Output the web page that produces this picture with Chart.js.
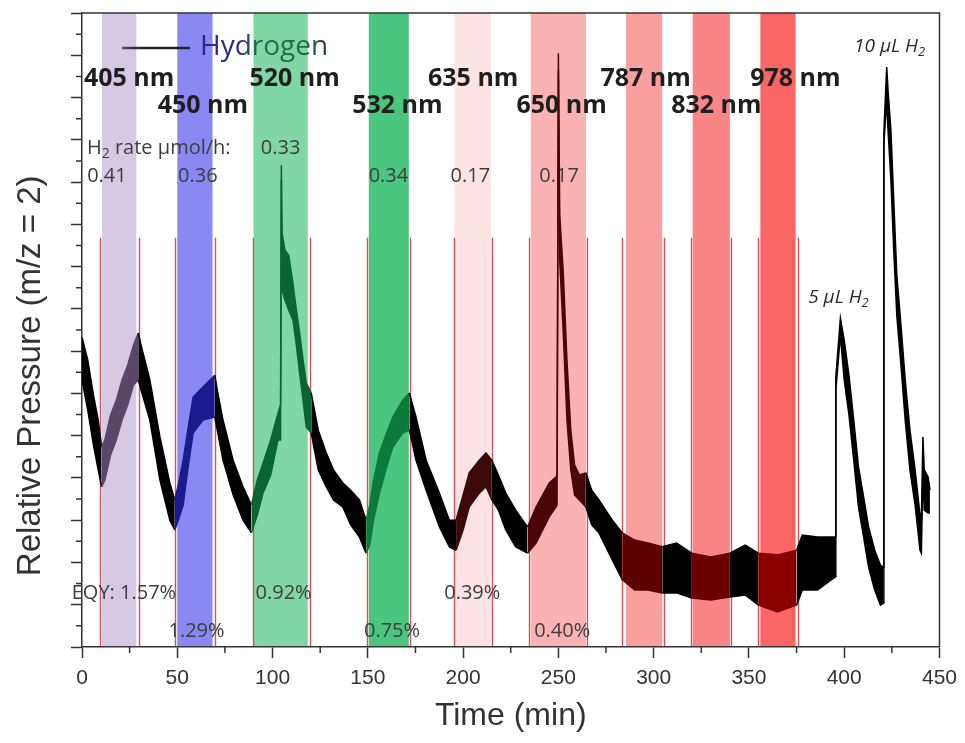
<!DOCTYPE html>
<html>
<head>
<meta charset="utf-8">
<title>H2 evolution vs wavelength</title>
<script src="https://cdn.jsdelivr.net/npm/chart.js@4.4.1/dist/chart.umd.min.js"></script>
<style>
  html, body { margin: 0; padding: 0; background: #fff; }
</style>
</head>
<body>
<canvas id="h2Chart" width="965" height="743"></canvas>
<script>
// Datos: tiempo (min) y envolvente del ruido de la señal m/z = 2
const timeMin = [0, 3, 6, 8.5, 10.3, 12, 15, 18, 21, 24,
  27, 29.5, 31, 35.6, 40.9, 46.1, 48.7, 50.5, 53.1, 55.5,
  58.3, 63.5, 69.7, 71, 74, 79.3, 84.5, 88.9, 92, 95,
  99, 102.9, 104.2, 104.6, 105, 106.5, 108.5, 110.7, 112.5, 114.2,
  116, 117.7, 120.3, 124, 128.2, 132, 136.9, 141, 145.6, 149.1,
  151, 153, 156.1, 159.5, 163.1, 168.3, 171.8, 175.3, 180.6, 187.6,
  192.8, 196.3, 200, 203.2, 208.5, 212, 215.1, 218.5, 222.4, 227.6,
  233.8, 238.3, 245.2, 248.7, 249.3, 250, 250.7, 252.5, 254.5, 256.5,
  258.5, 261, 264.4, 267.5, 271.3, 278.3, 283.6, 290, 297, 304.5,
  312, 320, 330, 340, 348, 355, 365, 375, 378, 386,
  395.3, 395.6, 398, 400, 402.5, 405, 407.5, 410, 412.8, 416,
  419, 420.5, 420.8, 422.3, 423, 424.5, 426, 427.6, 430, 432,
  434.5, 437.2, 439.8, 440.5, 441.3, 442, 444, 445];

const pressureTop = [7.33, 6.79, 5.96, 5.37, 4.73, 4.90, 5.49, 5.84, 6.32, 6.67,
  7.14, 7.43, 7.14, 6.32, 4.97, 3.88, 3.48, 3.83, 4.42, 5.13,
  5.91, 6.15, 6.43, 6.08, 5.37, 4.42, 3.79, 3.36, 3.95, 4.35,
  4.90, 5.54, 5.73, 11.40, 9.79, 9.39, 9.27, 8.61, 7.97, 7.43,
  6.79, 6.25, 6.01, 5.13, 4.59, 4.19, 3.88, 3.71, 3.48, 3.00,
  3.36, 3.95, 4.59, 5.02, 5.44, 5.84, 6.01, 5.44, 4.42, 3.64,
  3.00, 3.00, 3.60, 4.12, 4.42, 4.59, 4.42, 4.07, 3.64, 3.24,
  2.84, 3.31, 3.88, 4.02, 4.07, 14.05, 10.22, 8.92, 6.79, 5.13,
  4.31, 4.07, 4.12, 3.71, 3.48, 3.00, 2.70, 2.53, 2.46, 2.37,
  2.46, 2.22, 2.13, 2.22, 2.41, 2.22, 2.18, 2.29, 2.65, 2.60,
  2.60, 6.39, 7.78, 7.26, 6.43, 5.37, 4.26, 3.60, 2.84, 2.29,
  1.94, 1.89, 12.16, 13.72, 13.18, 12.23, 10.57, 8.80, 7.50, 6.32,
  5.13, 4.19, 3.12, 3.00, 4.97, 4.19, 4.02, 3.71];

const pressureBottom = [6.32, 5.61, 4.78, 4.19, 3.79, 3.95, 4.54, 4.90, 5.37, 5.73,
  6.20, 6.32, 6.08, 5.37, 3.95, 3.00, 2.77, 3.00, 3.36, 4.19,
  5.06, 5.37, 5.44, 5.13, 4.42, 3.60, 3.00, 2.70, 3.12, 3.64,
  4.07, 4.90, 4.90, 11.05, 8.45, 8.21, 7.97, 7.74, 7.14, 6.48,
  5.84, 5.20, 5.06, 4.19, 3.79, 3.48, 3.31, 2.89, 2.60, 2.22,
  2.41, 3.00, 3.64, 4.19, 4.73, 5.06, 5.13, 4.42, 3.71, 2.84,
  2.37, 2.29, 2.77, 3.31, 3.64, 3.79, 3.48, 3.24, 2.77, 2.37,
  2.22, 2.46, 3.08, 3.31, 3.36, 13.65, 9.16, 7.50, 5.37, 4.19,
  3.60, 3.48, 3.31, 2.89, 2.70, 2.06, 1.59, 1.35, 1.35, 1.28,
  1.28, 1.16, 1.11, 1.18, 1.23, 0.99, 0.83, 0.99, 1.35, 1.35,
  1.66, 6.08, 7.38, 6.32, 5.49, 4.42, 3.31, 2.65, 1.89, 1.35,
  0.99, 1.04, 11.88, 12.94, 12.23, 11.05, 9.39, 7.85, 6.55, 5.37,
  4.19, 3.36, 2.29, 2.22, 4.19, 3.24, 3.17, 3.17];

// Iluminación: longitudes de onda, encendido/apagado (líneas rojas) y ancho de la banda
const wavelengths = ['405 nm', '450 nm', '520 nm', '532 nm', '635 nm', '650 nm', '787 nm', '832 nm', '978 nm'];
const lightOn  = [9.5, 49, 89.5, 149.5, 195, 234.5, 283.5, 319.5, 354.5];
const lightOff = [30, 70, 119.5, 172, 215, 265, 305.5, 340.5, 376];
const bandFrom = [10.5, 50, 90, 150.5, 195.5, 235.5, 285.5, 320.5, 356];
const bandTo   = [28.5, 68.5, 118.5, 171.5, 214.5, 264.5, 304.5, 340, 374.5];

// Tasas de H2 y eficiencias cuánticas
const rateLabels = ['0.41', '0.36', '0.33', '0.34', '0.17', '0.17'];
const eqyLabels = ['EQY: 1.57%', '1.29%', '0.92%', '0.75%', '0.39%', '0.40%'];

// posiciones de los textos (tiempo, nivel en el eje y)
const waveLabelTime = [24.7, 63.4, 111.6, 165.5, 205.3, 251.7, 295.8, 332.9, 374.4];
const waveLabelLevel = [13.45, 12.8, 13.45, 12.8, 13.45, 12.8, 13.45, 12.8, 13.45];
const rateTime = [13.1, 60.8, 104.2, 160.8, 203.8, 250.4];
const rateLevel = [11.14, 11.14, 11.8, 11.14, 11.14, 11.14];
const eqyTime = [22, 60.1, 105.8, 162.7, 204.8, 252];
const eqyLevel = [1.28, 0.38, 1.28, 0.38, 1.28, 0.38];
const markerTop = 9.68;

// colores
const bandColor = ['#d6c9e3', '#8c88f3', '#80d7a5', '#4ac67e', '#fde3e3', '#fbb2b2', '#fa9e9e', '#f98686', '#fa6666'];
const traceTint = ['#5a4768', '#1c1a8e', '#0b6531', '#0c7a3a', '#3c0909', '#4a0606', '#5c0202', '#6a0000', '#8a0000'];

function tintAt(t) {
  for (let i = 0; i < lightOn.length; i++) {
    if (t >= lightOn[i] && t <= lightOff[i]) return traceTint[i];
  }
  return '#000000';
}
const segColor = c => tintAt((c.p0.parsed.x + c.p1.parsed.x) / 2);

// texto con subíndices: partes alternas normal / subíndice
function richText(ctx, parts, x, y, size, style, align) {
  const big = style + ' ' + size + 'px "Open Sans"';
  const small = style + ' ' + Math.round(size * 0.7) + 'px "Open Sans"';
  let w = 0;
  parts.forEach((p, i) => { ctx.font = i % 2 ? small : big; w += ctx.measureText(p).width; });
  let cx = align === 'center' ? x - w / 2 : x;
  ctx.textAlign = 'left';
  parts.forEach((p, i) => {
    ctx.font = i % 2 ? small : big;
    ctx.fillText(p, cx, i % 2 ? y + size * 0.3 : y);
    cx += ctx.measureText(p).width;
  });
}

const decor = {
  id: 'decor',
  beforeDraw(chart) {
    const {ctx, chartArea: a, scales: {x, y}} = chart;
    ctx.save();
    for (let i = 0; i < bandFrom.length; i++) {
      const x0 = x.getPixelForValue(bandFrom[i]);
      const x1 = x.getPixelForValue(bandTo[i]);
      ctx.fillStyle = bandColor[i];
      ctx.fillRect(x0, a.top, x1 - x0, a.bottom - a.top);
    }
    ctx.strokeStyle = 'rgba(212, 62, 72, 0.9)';
    ctx.lineWidth = 1.4;
    const yTop = y.getPixelForValue(markerTop);
    lightOn.concat(lightOff).forEach(t => {
      const px = Math.round(x.getPixelForValue(t)) + 0.5;
      ctx.beginPath();
      ctx.moveTo(px, a.bottom);
      ctx.lineTo(px, yTop);
      ctx.stroke();
    });
    ctx.restore();
  },
  beforeDatasetsDraw(chart) {
    const {ctx, chartArea: a, scales: {x, y}} = chart;
    ctx.save();
    ctx.textBaseline = 'middle';
    ctx.textAlign = 'center';
    ctx.fillStyle = '#1e1e1e';
    ctx.font = 'bold 25px "Open Sans"';
    wavelengths.forEach((w, i) => {
      ctx.fillText(w, x.getPixelForValue(waveLabelTime[i]), y.getPixelForValue(waveLabelLevel[i]));
    });
    ctx.fillStyle = '#3d3d3d';
    richText(ctx, ['H', '2', ' rate µmol/h:'], a.left + 5, y.getPixelForValue(11.8), 20, 'normal', 'left');
    ctx.textAlign = 'center';
    ctx.font = '20px "Open Sans"';
    rateLabels.forEach((r, i) => {
      ctx.fillText(r, x.getPixelForValue(rateTime[i]), y.getPixelForValue(rateLevel[i]));
    });
    eqyLabels.forEach((r, i) => {
      ctx.fillText(r, x.getPixelForValue(eqyTime[i]), y.getPixelForValue(eqyLevel[i]));
    });
    ctx.fillStyle = '#2a2a2a';
    richText(ctx, ['10 µL H', '2'], x.getPixelForValue(423.8), y.getPixelForValue(14.2), 19, 'italic', 'center');
    richText(ctx, ['5 µL H', '2'], x.getPixelForValue(397), y.getPixelForValue(8.26), 19, 'italic', 'center');
    ctx.restore();
  },
  afterDraw(chart) {
    const {ctx, chartArea: a, scales: {x, y}} = chart;
    ctx.save();
    ctx.strokeStyle = '#333';
    ctx.lineWidth = 1.5;
    // marco superior y derecho
    ctx.beginPath();
    ctx.moveTo(a.left, a.top);
    ctx.lineTo(a.right, a.top);
    ctx.lineTo(a.right, a.bottom);
    ctx.stroke();
    // ticks menores
    ctx.beginPath();
    for (let t = 25; t < 450; t += 50) {
      const px = x.getPixelForValue(t);
      ctx.moveTo(px, a.bottom);
      ctx.lineTo(px, a.bottom + 6);
    }
    for (let v = 0.5; v < 15; v += 1) {
      const py = y.getPixelForValue(v);
      ctx.moveTo(a.left - 6, py);
      ctx.lineTo(a.left, py);
    }
    ctx.stroke();
    // leyenda
    const ly = a.top + 34;
    const lx = a.left + 40;
    const g = ctx.createLinearGradient(lx, 0, lx + 250, 0);
    g.addColorStop(0, '#5a4a70');
    g.addColorStop(0.08, '#222');
    g.addColorStop(0.25, '#222');
    g.addColorStop(0.3, '#28288a');
    g.addColorStop(0.45, '#28288a');
    g.addColorStop(0.55, '#1d6f44');
    g.addColorStop(0.72, '#1d6f44');
    g.addColorStop(0.85, '#333');
    ctx.strokeStyle = g;
    ctx.lineWidth = 2.5;
    ctx.beginPath();
    ctx.moveTo(lx, ly + 1);
    ctx.lineTo(lx + 68, ly + 1);
    ctx.stroke();
    ctx.fillStyle = g;
    ctx.font = '28px "Open Sans"';
    ctx.textAlign = 'left';
    ctx.textBaseline = 'middle';
    ctx.fillText(chart.data.datasets[0].label, lx + 78, ly);
    ctx.restore();
  }
};

const axisFont = {family: '"Liberation Sans", Arial, sans-serif'};
const ctx1 = document.getElementById('h2Chart').getContext('2d');
const h2Chart = new Chart(ctx1, {
  type: 'line',
  data: {
    datasets: [{
      label: 'Hydrogen',
      data: timeMin.map((t, i) => ({x: t, y: pressureTop[i]})),
      borderColor: '#000',
      backgroundColor: '#000',
      borderWidth: 1.5,
      pointRadius: 0,
      fill: '+1',
      segment: {borderColor: segColor, backgroundColor: segColor}
    }, {
      label: 'Hydrogen (min)',
      data: timeMin.map((t, i) => ({x: t, y: pressureBottom[i]})),
      borderColor: '#000',
      borderWidth: 1.5,
      pointRadius: 0,
      fill: false,
      segment: {borderColor: segColor}
    }]
  },
  options: {
    responsive: false,
    animation: false,
    layout: {padding: {top: 13, right: 24, left: 0, bottom: 0}},
    plugins: {legend: {display: false}, tooltip: {enabled: false}},
    scales: {
      x: {
        type: 'linear',
        min: 0,
        max: 450,
        ticks: {stepSize: 50, color: '#333', padding: 8, font: {...axisFont, size: 21}},
        grid: {drawOnChartArea: false, tickLength: 11, color: '#333', tickWidth: 1.5},
        border: {color: '#333', width: 1.5},
        title: {display: true, text: 'Time (min)', color: '#333', font: {...axisFont, size: 32}, padding: {top: 0, bottom: 8}},
        afterFit: s => { s.height = 96; }
      },
      y: {
        min: 0,
        max: 15,
        ticks: {stepSize: 1, display: false},
        grid: {drawOnChartArea: false, tickLength: 11, color: '#333', tickWidth: 1.5},
        border: {color: '#333', width: 1.5},
        title: {display: true, text: 'Relative Pressure (m/z = 2)          ', color: '#333', font: {...axisFont, size: 33}, padding: {top: 11, bottom: 0}},
        afterFit: s => { s.width = 82; }
      }
    }
  },
  plugins: [decor]
});
</script>
</body>
</html>
